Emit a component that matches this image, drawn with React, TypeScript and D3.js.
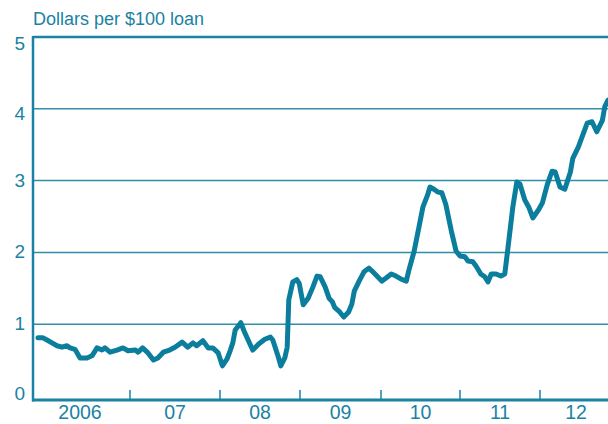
import { scaleLinear, line, curveLinear } from "d3";

// decimal years and dollars per $100 loan
const years = [
  2006.08, 2006.13, 2006.17, 2006.22, 2006.27, 2006.32, 2006.37, 2006.4, 2006.45, 2006.5,
  2006.57, 2006.62, 2006.67, 2006.72, 2006.75, 2006.8, 2006.87, 2006.93, 2006.98, 2007.06,
  2007.09, 2007.14, 2007.2, 2007.26, 2007.31, 2007.37, 2007.44, 2007.5, 2007.58, 2007.64,
  2007.7, 2007.74, 2007.81, 2007.87, 2007.92, 2007.98, 2008.03, 2008.09, 2008.13, 2008.16,
  2008.19, 2008.26, 2008.31, 2008.38, 2008.41, 2008.48, 2008.56, 2008.63, 2008.66, 2008.73,
  2008.76, 2008.81, 2008.84, 2008.86, 2008.91, 2008.96, 2008.99, 2009.04, 2009.1, 2009.16,
  2009.21, 2009.25, 2009.31, 2009.36, 2009.4, 2009.43, 2009.49, 2009.54, 2009.6, 2009.64,
  2009.67, 2009.73, 2009.79, 2009.85, 2009.89, 2009.95, 2010.01, 2010.06, 2010.13, 2010.19,
  2010.25, 2010.32, 2010.35, 2010.42, 2010.48, 2010.53, 2010.59, 2010.62, 2010.67, 2010.72,
  2010.77, 2010.82, 2010.89, 2010.95, 2011.0, 2011.06, 2011.1, 2011.16, 2011.2, 2011.26,
  2011.31, 2011.35, 2011.39, 2011.45, 2011.51, 2011.56, 2011.61, 2011.66, 2011.71, 2011.75,
  2011.81, 2011.86, 2011.91, 2011.98, 2012.03, 2012.09, 2012.15, 2012.19, 2012.25, 2012.31,
  2012.38, 2012.41, 2012.48, 2012.54, 2012.59, 2012.65, 2012.71, 2012.78, 2012.81, 2012.85,
];
const values = [
  0.81, 0.81, 0.78, 0.74, 0.7, 0.68, 0.7, 0.67, 0.65, 0.53,
  0.53, 0.56, 0.67, 0.64, 0.67, 0.61, 0.64, 0.67, 0.63, 0.64,
  0.61, 0.67, 0.6, 0.5, 0.53, 0.61, 0.64, 0.68, 0.75, 0.68,
  0.74, 0.7, 0.77, 0.67, 0.67, 0.6, 0.42, 0.52, 0.64, 0.74,
  0.92, 1.02, 0.88, 0.71, 0.64, 0.72, 0.79, 0.82, 0.78, 0.54,
  0.42, 0.53, 0.68, 1.34, 1.59, 1.62, 1.57, 1.27, 1.36, 1.52,
  1.67, 1.66, 1.52, 1.36, 1.31, 1.23, 1.17, 1.1, 1.17, 1.28,
  1.46, 1.6, 1.73, 1.78, 1.74, 1.67, 1.6, 1.64, 1.7, 1.67,
  1.63, 1.6, 1.74, 2.02, 2.35, 2.63, 2.8, 2.91, 2.88, 2.84,
  2.83, 2.67, 2.3, 2.02, 1.95, 1.94, 1.88, 1.87, 1.81, 1.7,
  1.66, 1.59, 1.7, 1.7, 1.67, 1.7, 2.16, 2.63, 2.98, 2.95,
  2.73, 2.63, 2.48, 2.59, 2.69, 2.94, 3.13, 3.12, 2.91, 2.88,
  3.12, 3.31, 3.47, 3.65, 3.8, 3.82, 3.68, 3.84, 4.03, 4.12,
];

const yearBreaks = [2006, 2007, 2008, 2009, 2010, 2011, 2012, 2013];
const yearLabels = ["2006", "07", "08", "09", "10", "11", "12"];
const yTicks = [0, 1, 2, 3, 4, 5];

const width = 608;
const height = 424;
const left = 33;
const right = 608;
const blue = "#0b7e9e";
const textColor = "#1a82a3";
const font = "'Liberation Sans', Arial, sans-serif";

export default function App() {
  // year boundaries are not evenly spaced on the original
  const x = scaleLinear()
    .domain(yearBreaks)
    .range([30, 130, 220, 300, 381, 460, 540, 620]);
  const y = scaleLinear().domain([0, 5]).range([396, 37]);
  const axisY = 400;

  const path = line<number>()
    .x((d, i) => x(years[i]))
    .y((d) => y(d))
    .curve(curveLinear)(values);

  return (
    <svg
      width={width}
      height={height}
      style={{ position: "absolute", left: 0, top: 0, background: "#fff" }}
    >
      <text x={left} y={25} fill={textColor} fontFamily={font} fontSize={18}>
        Dollars per $100 loan
      </text>

      {yTicks.slice(1).map((t) => (
        <line
          key={t}
          x1={left}
          x2={right}
          y1={y(t)}
          y2={y(t)}
          stroke={textColor}
          strokeWidth={t === 5 ? 2.5 : 1.5}
          opacity={t === 5 ? 1 : 0.9}
        />
      ))}
      {yTicks.map((t) => (
        <text
          key={t}
          x={25}
          y={t === 5 ? y(t) + 8 : t === 4 ? y(t) + 6 : t === 0 ? 395 : y(t) + 1}
          fill={textColor}
          fontFamily={font}
          fontSize={19}
          textAnchor="end"
          dominantBaseline="middle"
        >
          {t}
        </text>
      ))}

      <line x1={left} x2={left} y1={36} y2={axisY + 1.5} stroke={textColor} strokeWidth={2.5} />
      <line x1={left - 1} x2={right} y1={axisY} y2={axisY} stroke={textColor} strokeWidth={3} />

      {yearBreaks.slice(1, 7).map((yr) => (
        <line
          key={yr}
          x1={x(yr)}
          x2={x(yr)}
          y1={axisY - 10}
          y2={axisY}
          stroke={textColor}
          strokeWidth={1.5}
        />
      ))}
      {yearLabels.map((lbl, i) => (
        <text
          key={lbl}
          x={(x(yearBreaks[i]) + Math.min(x(yearBreaks[i + 1]), 612)) / 2}
          y={419}
          fill={textColor}
          fontFamily={font}
          fontSize={19.5}
          textAnchor="middle"
        >
          {lbl}
        </text>
      ))}

      <path
        d={path ?? ""}
        fill="none"
        stroke={blue}
        strokeWidth={5}
        strokeLinejoin="round"
        strokeLinecap="round"
      />
    </svg>
  );
}
